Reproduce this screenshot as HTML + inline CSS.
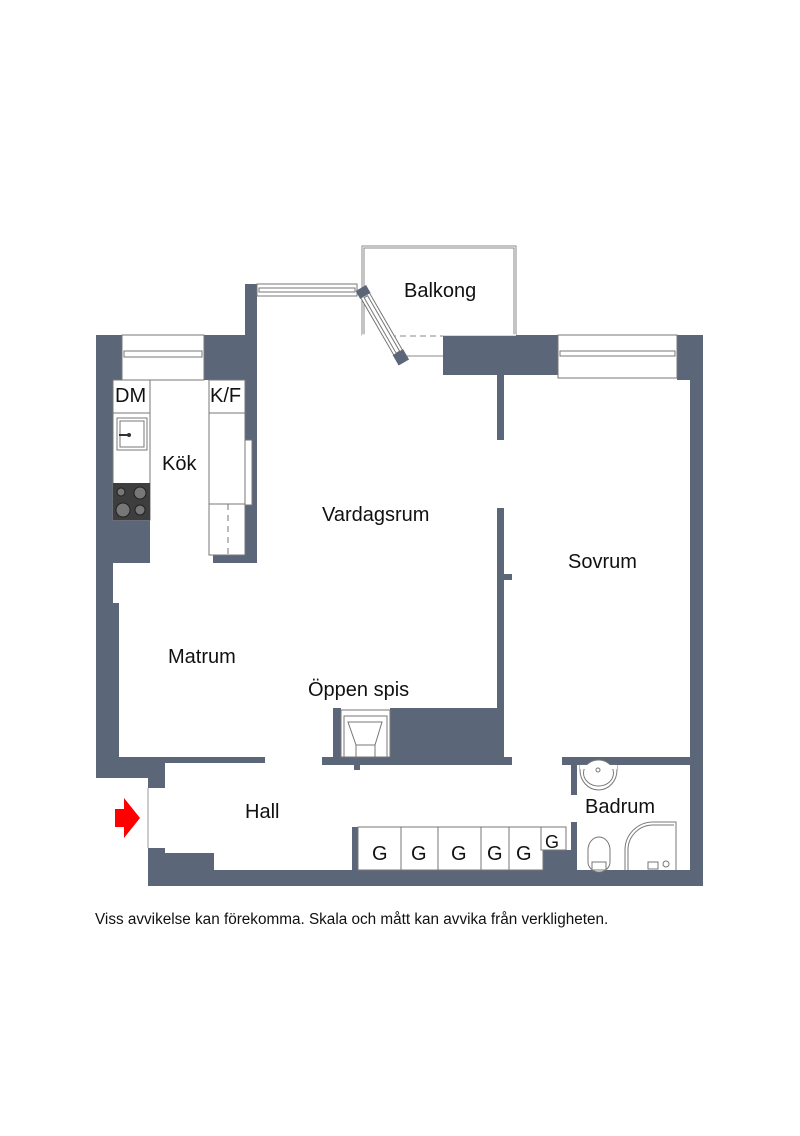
<!DOCTYPE html>
<html><head><style>
body{margin:0;background:#fff}
svg text{font-family:"Liberation Sans",sans-serif;fill:#111}
</style></head><body>
<svg width="800" height="1131" viewBox="0 0 800 1131" xmlns="http://www.w3.org/2000/svg">
<g fill="#5b6678">
<rect x="96" y="335" width="26" height="45"/>
<rect x="96" y="335" width="17" height="443"/>
<rect x="113" y="520" width="37" height="43"/>
<rect x="113" y="603" width="6" height="160"/>
<rect x="96" y="757" width="52" height="21"/>
<rect x="119" y="757" width="146" height="6"/>
<rect x="148" y="757" width="17" height="31"/>
<rect x="204" y="335" width="53" height="45"/>
<rect x="245" y="284" width="12" height="279"/>
<rect x="213" y="555" width="44" height="8"/>
<rect x="148" y="848" width="17" height="38"/>
<rect x="148" y="853" width="66" height="33"/>
<rect x="148" y="870" width="555" height="16"/>
<rect x="443" y="335" width="115" height="40"/>
<rect x="677" y="335" width="26" height="45"/>
<rect x="690" y="335" width="13" height="551"/>
<rect x="497" y="375" width="7" height="65"/>
<rect x="497" y="508" width="7" height="252"/>
<rect x="504" y="574" width="8" height="6"/>
<rect x="390" y="708" width="110" height="52"/>
<rect x="322" y="757" width="190" height="8"/>
<rect x="333" y="708" width="8" height="52"/>
<rect x="354" y="765" width="6" height="5"/>
<rect x="562" y="757" width="141" height="8"/>
<rect x="571" y="757" width="6" height="38"/>
<rect x="571" y="822" width="6" height="50"/>
<rect x="352" y="827" width="6" height="45"/>
<rect x="543" y="850" width="28" height="22"/>
</g>
<g fill="#fff" stroke="#777" stroke-width="1">
<rect x="122" y="335" width="82" height="45"/>
<rect x="124" y="351" width="78" height="6"/>
<rect x="558" y="335" width="119" height="43"/>
<rect x="560" y="351" width="115" height="5"/>
<rect x="257" y="284" width="100" height="12"/>
<rect x="259" y="288" width="96" height="4"/>
<rect x="244" y="440" width="8" height="65"/>
</g>
<rect x="362" y="246" width="154" height="89" fill="none" stroke="#888" stroke-width="1"/>
<rect x="364" y="248" width="150" height="87" fill="none" stroke="#888" stroke-width="1"/>
<line x1="362" y1="335" x2="516" y2="335" stroke="#fff" stroke-width="1.5"/>
<line x1="390" y1="336" x2="443" y2="336" stroke="#888" stroke-dasharray="6,4"/>
<line x1="400" y1="356" x2="443" y2="356" stroke="#888"/>
<g transform="translate(362,292) rotate(-30)">
<rect x="-4" y="0" width="10" height="76" fill="#fff" stroke="#777"/>
<rect x="-1" y="6" width="4" height="64" fill="#fff" stroke="#777"/>
<rect x="-5" y="-4" width="12" height="9" fill="#5b6678"/>
<rect x="-5" y="70" width="12" height="12" fill="#5b6678"/>
</g>
<g fill="#fff" stroke="#777">
<rect x="113" y="380" width="37" height="140"/>
<line x1="113" y1="413" x2="150" y2="413"/>
<rect x="117" y="418" width="30" height="32" fill="#fff"/>
<rect x="120" y="421" width="24" height="26"/>
<rect x="209" y="380" width="36" height="175"/>
<line x1="209" y1="413" x2="245" y2="413"/>
<line x1="209" y1="504" x2="245" y2="504"/>
</g>
<line x1="228" y1="504" x2="228" y2="555" stroke="#777" stroke-dasharray="6,5"/>
<line x1="119" y1="435" x2="128" y2="435" stroke="#333" stroke-width="2"/>
<circle cx="129" cy="435" r="2" fill="#333"/>
<rect x="113" y="483" width="37" height="37" fill="#3e3e3e"/>
<g fill="#777" stroke="#222">
<circle cx="121" cy="492" r="4"/><circle cx="140" cy="493" r="6"/>
<circle cx="123" cy="510" r="7"/><circle cx="140" cy="510" r="5"/>
</g>
<rect x="341" y="710" width="49" height="47" fill="#fff" stroke="#777"/>
<rect x="344" y="716" width="43" height="41" fill="#fff" stroke="#777"/>
<polygon points="348,722 382,722 375,745 356,745" fill="#fff" stroke="#777"/>
<rect x="356" y="745" width="19" height="12" fill="#fff" stroke="#777"/>
<g fill="#fff" stroke="#777">
<rect x="358" y="827" width="185" height="43"/>
<line x1="401" y1="827" x2="401" y2="870"/>
<line x1="438" y1="827" x2="438" y2="870"/>
<line x1="481" y1="827" x2="481" y2="870"/>
<line x1="509" y1="827" x2="509" y2="870"/>
<rect x="541" y="827" width="25" height="23"/>
</g>
<g fill="#fff" stroke="#777">
<path d="M580,765 L617,765 L617,770 A18.5,20 0 0 1 580,770 Z"/>
<ellipse cx="598.5" cy="773" rx="15" ry="13"/>
<rect x="580" y="765" width="37" height="4" stroke="none"/>
<circle cx="598" cy="770" r="2"/>
<path d="M588,850 a11,13 0 0 1 22,0 l0,12 a11,10 0 0 1 -22,0 z"/>
<rect x="592" y="862" width="14" height="8"/>
<path d="M625,870 L625,850 A28,28 0 0 1 653,822 L676,822 L676,870"/>
<path d="M628,870 L628,850 A25,25 0 0 1 653,825 L674,825"/>
<circle cx="666" cy="864" r="3"/>
<rect x="648" y="862" width="10" height="7"/>
</g>
<line x1="148" y1="788" x2="148" y2="848" stroke="#999"/>
<polygon points="115,809 124,809 124,798 140,818 124,838 124,827 115,827" fill="#f00"/>
<g font-size="20">
<text x="404" y="297">Balkong</text>
<text x="115" y="402">DM</text>
<text x="210" y="402">K/F</text>
<text x="162" y="470">Kök</text>
<text x="322" y="521">Vardagsrum</text>
<text x="568" y="568">Sovrum</text>
<text x="168" y="663">Matrum</text>
<text x="308" y="696">Öppen spis</text>
<text x="245" y="818">Hall</text>
<text x="585" y="813">Badrum</text>
<text x="372" y="860">G</text>
<text x="411" y="860">G</text>
<text x="451" y="860">G</text>
<text x="487" y="860">G</text>
<text x="516" y="860">G</text>
<text x="545" y="848" font-size="18">G</text>
</g>
<text x="95" y="924" font-size="15.3">Viss avvikelse kan förekomma. Skala och mått kan avvika från verkligheten.</text>
</svg>
</body></html>
